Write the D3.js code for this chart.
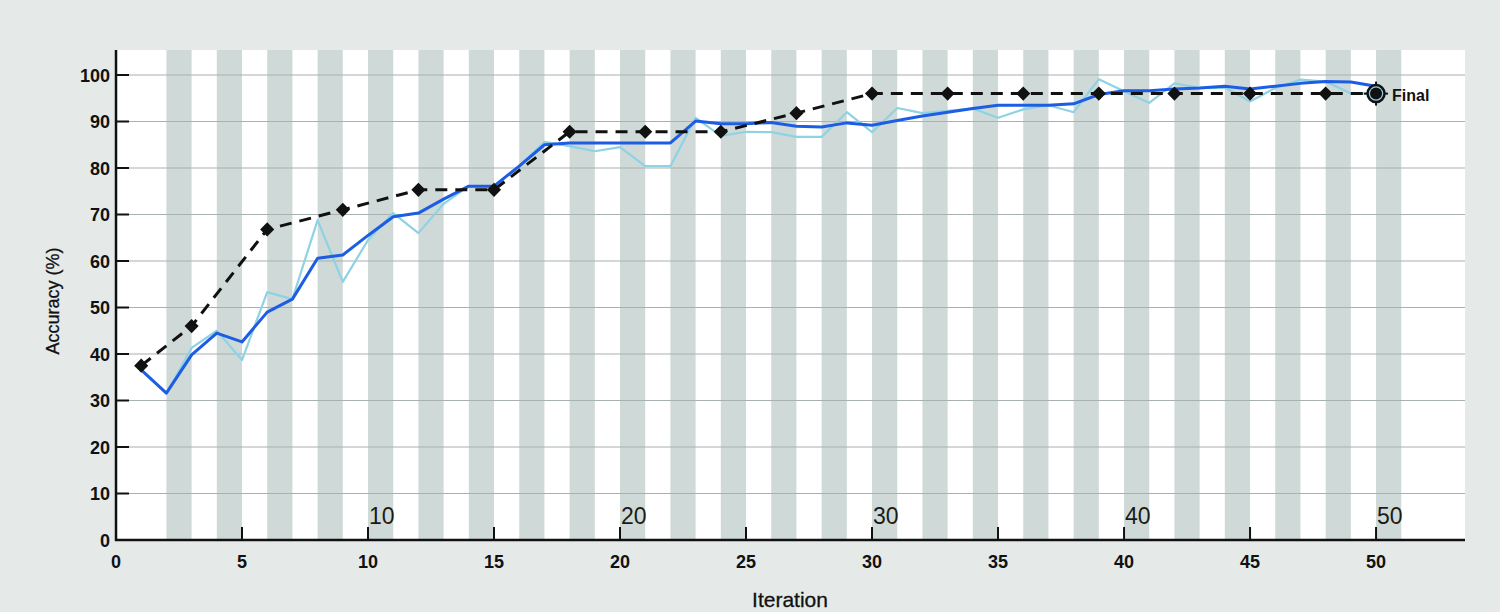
<!DOCTYPE html>
<html><head><meta charset="utf-8">
<script src="https://cdn.jsdelivr.net/npm/d3@7"></script>
<style>
html,body{margin:0;padding:0;background:#e5eae9;}
svg{display:block;}
</style></head>
<body>
<svg id="c" width="1500" height="612"></svg>
<script>
const iterations = d3.range(1, 51);
const smoothAcc = [36.6,31.6,39.8,44.5,42.6,49,51.8,60.6,61.3,65.5,69.5,70.3,73.3,76.1,76.1,80.4,85,85.4,85.4,85.4,85.4,85.4,90.1,89.5,89.5,89.8,89,88.8,89.7,89.2,90.2,91.2,92,92.8,93.5,93.5,93.5,93.8,95.8,96.6,96.6,97,97.2,97.6,97,97.6,98.2,98.6,98.5,97.6];
const rawAcc = [36.6,31.5,41.3,45,38.7,53.3,51.8,68.8,55.5,64.5,70.3,66,72.3,76.1,76.1,80.4,85.6,84.7,83.6,84.5,80.4,80.4,90.8,86.9,87.8,87.7,86.7,86.7,92,87.7,92.9,91.8,92.3,92.8,90.8,92.6,93.5,92,99.1,96.5,94,98.2,97.2,97.3,94.3,97.2,99,98.6,96,96];
const bestIters = [1,3,6,9,12,15,18,21,24,27,30,33,36,39,42,45,48,50];
const bestAcc = [37.5,46,66.8,71,75.3,75.3,87.8,87.8,87.8,91.8,96,96,96,96,96,96,96,96];
const yTicks = d3.range(0, 101, 10);
const xTicks = d3.range(0, 51, 5);
const inPlotLabels = [10,20,30,40,50];
const stripeStarts = d3.range(2, 51, 2);

const FONT = "Liberation Sans, Arial, Helvetica, sans-serif";
const svg = d3.select("#c");
const x = d3.scaleLinear().domain([0, 53.53]).range([116, 1465]);
const y = d3.scaleLinear().domain([0, 100]).range([540, 75]);
const pTop = 50, pBottom = 540, pLeft = 116, pRight = 1465;

svg.append("rect").attr("x",0).attr("y",0).attr("width",1500).attr("height",612).attr("fill","#e5eae9");
svg.append("rect").attr("x",pLeft).attr("y",pTop).attr("width",pRight-pLeft).attr("height",pBottom-pTop).attr("fill","#ffffff");

svg.append("g").selectAll("rect").data(stripeStarts).join("rect")
  .attr("x", d => x(d)).attr("y", pTop)
  .attr("width", d => x(d+1)-x(d)).attr("height", pBottom-pTop)
  .attr("fill", "#cfdad8");

svg.append("g").selectAll("line").data(yTicks.filter(d=>d>0)).join("line")
  .attr("x1", pLeft).attr("x2", pRight)
  .attr("y1", d => y(d)).attr("y2", d => y(d))
  .attr("stroke", "#a7b2b0").attr("stroke-width", 1.2);

// in-plot labels
svg.append("g").selectAll("text").data(inPlotLabels).join("text")
  .attr("x", d => x(d)+1).attr("y", 524)
  .attr("font-family", FONT).attr("font-size", 23)
  .attr("fill","#1a1a1a").text(d => d);

// lines
const line = d3.line().x((d,i)=>x(iterations[i])).y(d=>y(d));
svg.append("path").attr("d", line(rawAcc)).attr("fill","none")
  .attr("stroke","#8ed2e4").attr("stroke-width",2.2).attr("stroke-linejoin","round");
svg.append("path").attr("d", line(smoothAcc)).attr("fill","none")
  .attr("stroke","#1c5de4").attr("stroke-width",3).attr("stroke-linejoin","round");

const bestLine = d3.line().x((d,i)=>x(bestIters[i])).y(d=>y(d));
svg.append("path").attr("d", bestLine(bestAcc)).attr("fill","none")
  .attr("stroke","#111").attr("stroke-width",3).attr("stroke-dasharray","12,8");

svg.append("g").selectAll("path").data(bestAcc.slice(0,-1)).join("path")
  .attr("d", d3.symbol(d3.symbolSquare, 100)())
  .attr("transform", (d,i)=>`translate(${x(bestIters[i])},${y(d)}) rotate(45)`)
  .attr("fill","#111");

// final marker
const fx = x(bestIters[bestIters.length-1]), fy = y(bestAcc[bestAcc.length-1]);
const fg = svg.append("g").attr("transform",`translate(${fx},${fy})`);
fg.append("circle").attr("r",8.5).attr("fill","#8ed2e4").attr("stroke","#111").attr("stroke-width",2.5);
fg.append("circle").attr("r",6).attr("fill","#111");
[[0,-9,0,-12],[0,9,0,12],[-9,0,-12,0],[9,0,12,0]].forEach(s=>{
  fg.append("line").attr("x1",s[0]).attr("y1",s[1]).attr("x2",s[2]).attr("y2",s[3]).attr("stroke","#111").attr("stroke-width",2);
});
svg.append("text").attr("x", fx+16).attr("y", fy+7)
  .attr("font-family", FONT).attr("font-size",16).attr("font-weight","bold")
  .attr("fill","#111").text("Final");

// axes
svg.append("line").attr("x1",pLeft).attr("x2",pLeft).attr("y1",pTop).attr("y2",pBottom+1).attr("stroke","#111").attr("stroke-width",2.5);
svg.append("line").attr("x1",pLeft-1).attr("x2",pRight).attr("y1",pBottom).attr("y2",pBottom).attr("stroke","#111").attr("stroke-width",2.5);

svg.append("g").selectAll("line").data(yTicks.filter(d=>d>0)).join("line")
  .attr("x1", pLeft).attr("x2", pLeft+13).attr("y1", d=>y(d)).attr("y2", d=>y(d))
  .attr("stroke","#111").attr("stroke-width",2);
svg.append("g").selectAll("line").data(xTicks.filter(d=>d>0)).join("line")
  .attr("x1", d=>x(d)).attr("x2", d=>x(d)).attr("y1", pBottom).attr("y2", pBottom-13)
  .attr("stroke","#111").attr("stroke-width",2);

svg.append("g").selectAll("text").data(yTicks).join("text")
  .attr("x", pLeft-6).attr("y", d=>y(d)+6.5).attr("text-anchor","end")
  .attr("font-family", FONT).attr("font-size",18).attr("font-weight","bold")
  .attr("fill","#111").text(d=>d);
svg.append("g").selectAll("text").data(xTicks).join("text")
  .attr("x", d=>x(d)).attr("y", 568).attr("text-anchor","middle")
  .attr("font-family", FONT).attr("font-size",18).attr("font-weight","bold")
  .attr("fill","#111").text(d=>d);

svg.append("text").attr("transform","translate(59,301) rotate(-90)").attr("text-anchor","middle")
  .attr("font-family", FONT).attr("font-size",18)
  .attr("fill","#111").attr("stroke","#111").attr("stroke-width",0.3).text("Accuracy (%)");
svg.append("text").attr("x",790).attr("y",607).attr("text-anchor","middle")
  .attr("font-family", FONT).attr("font-size",21)
  .attr("fill","#111").attr("stroke","#111").attr("stroke-width",0.3).text("Iteration");
</script>
</body></html>
